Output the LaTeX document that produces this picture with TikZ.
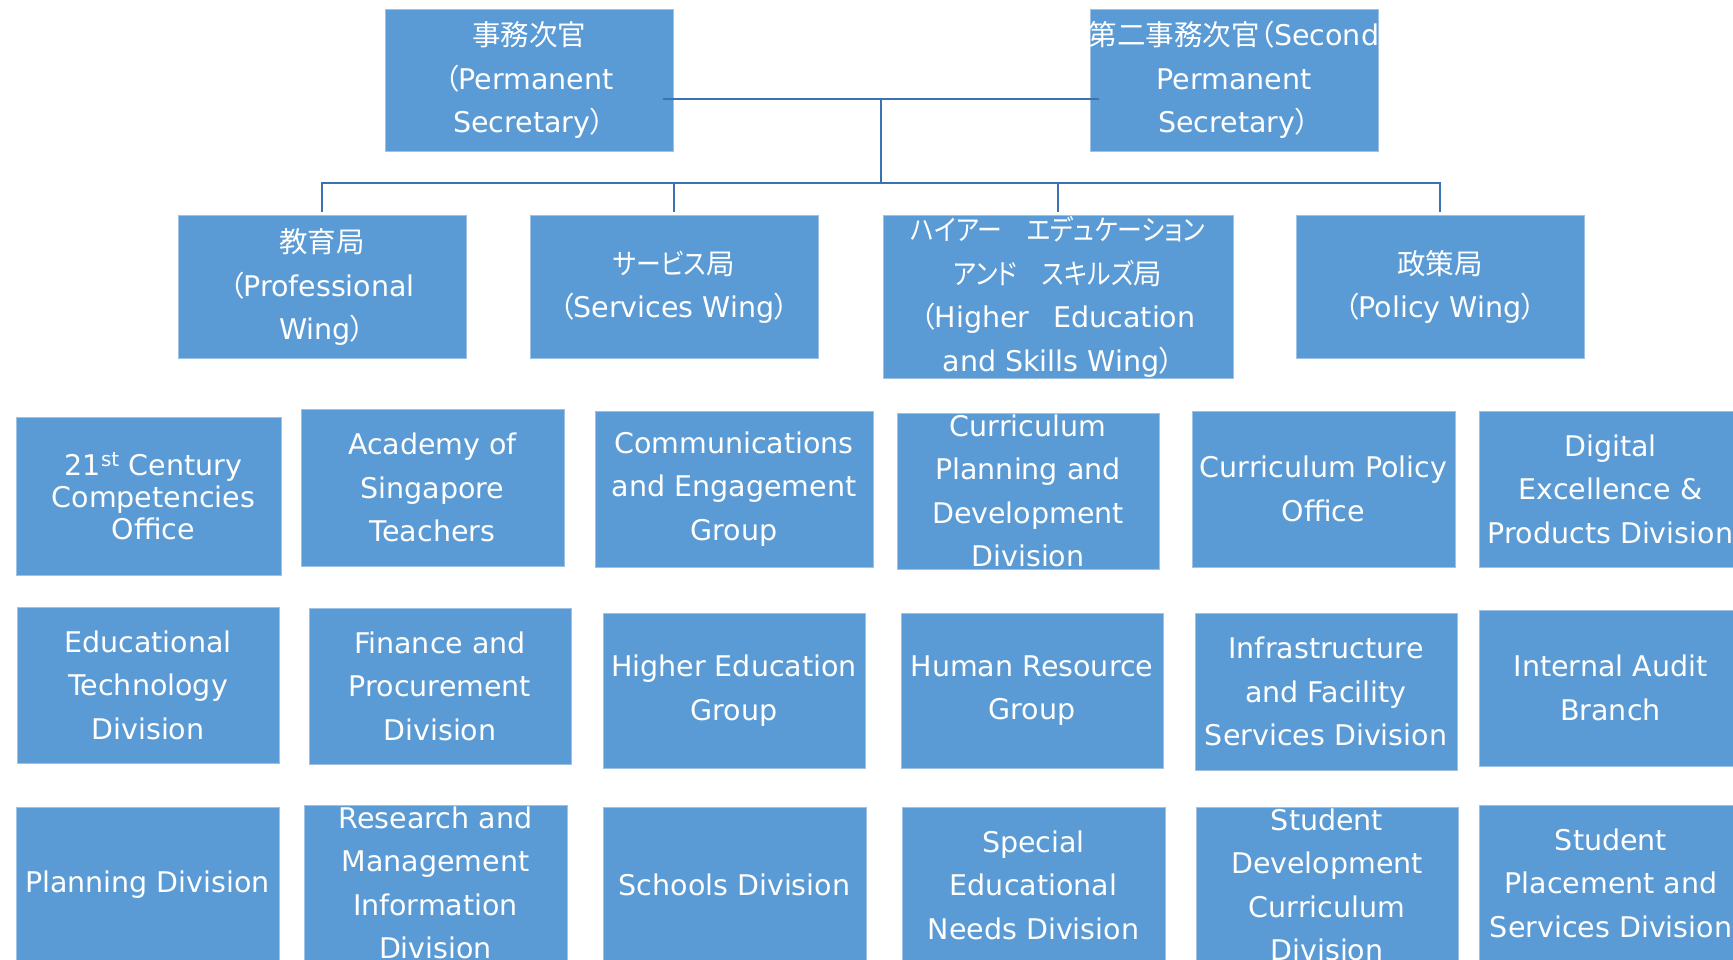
\documentclass[tikz,border=0pt]{standalone}
\usepackage{fontspec}
\setmainfont{DejaVu Sans}
\newfontfamily\jp{Noto Sans CJK JP}[RawFeature=+palt]
\newfontfamily\kana{Noto Sans CJK JP}[RawFeature=+palt, FakeStretch=0.87]
\definecolor{boxblue}{RGB}{91,155,213}
\definecolor{boxedge}{RGB}{158,194,230}
\definecolor{linkblue}{RGB}{58,114,180}

\begin{document}
\begin{tikzpicture}[
    % Egy képpont egy pont, lefelé növekvő y
    x=1pt, y=-1pt,
    % Szervezeti egységek dobozai, a felirat címkeként kerül középre
    unit/.style={
        rectangle, fill=boxblue, draw=boxedge, line width=1pt,
        inner sep=0pt, minimum width=263pt, minimum height=156pt
    },
    every label/.style={text=white, align=center, inner sep=0pt,
        font=\fontsize{28.5}{43.5}\selectfont},
    link/.style={draw=linkblue, line width=2.7pt}
]
    \useasboundingbox (0,0) rectangle (1733,959);

    % Felső szint: a két vezető
    \node[unit, minimum width=288pt, minimum height=142pt,
        label=center:{{\jp 事務次官}\\{\jp （}Permanent\\Secretary{\jp ）}}] (ps) at (529,80) {};
    \node[unit, minimum width=288pt, minimum height=142pt,
        label=center:{{\jp 第二事務次官（}Second\\Permanent\\Secretary{\jp ）}}] (sps) at (1234,80) {};

    % Szárnyak
    \node[unit, minimum width=288pt, minimum height=143pt,
        label=center:{{\jp 教育局}\\{\jp （}Professional\\Wing{\jp ）}}] (pw) at (322,287) {};
    \node[unit, minimum width=288pt, minimum height=143pt,
        label=center:{{\kana サービス}{\jp 局}\\{\jp （}Services Wing{\jp ）}}] (sw) at (674,287) {};
    \node[unit, minimum width=350pt, minimum height=163pt,
        label=center:{{\kana ハイアー　エデュケーション}\\{\kana アンド　スキルズ}{\jp 局}\\{\jp （}Higher\hspace{24pt}Education\\and Skills Wing{\jp ）}}] (hes) at (1058,297) {};
    \node[unit, minimum width=288pt, minimum height=143pt,
        label=center:{{\jp 政策局}\\{\jp （}Policy Wing{\jp ）}}] (pol) at (1440,287) {};

    % Összekötő vonalak
    \coordinate (hub) at (881,99);
    \coordinate (bus) at (881,183);
    \draw[link, shorten <=-11pt, shorten >=-9pt] (ps.east |- hub) -- (sps.west |- hub);
    \draw[link] (hub) -- (bus);
    \draw[link, shorten <=3pt, shorten >=3pt] (pw.north) -- (pw.north |- bus) -- (pol.north |- bus) -- (pol.north);
    \draw[link, shorten >=3pt] (sw.north |- bus) -- (sw.north);
    \draw[link, shorten >=3pt] (hes.north |- bus) -- (hes.north);

    % Osztályok, első sor
    \node[unit, minimum width=265pt, minimum height=158pt,
        label={[xshift=5pt, font=\fontsize{28.5}{32}\selectfont]center:{21\textsuperscript{st} Century\\Competencies\\Office}}] (c21) at (148.5,496) {};
    \node[unit, minimum height=157pt,
        label=center:{Academy of\\Singapore\\Teachers}] (ast) at (432.5,487.5) {};
    \node[unit, minimum width=278pt,
        label=center:{Communications\\and Engagement\\Group}] (ceg) at (734,489) {};
    \node[unit, minimum width=262pt,
        label=center:{Curriculum\\Planning and\\Development\\Division}] (cpd) at (1028,491) {};
    \node[unit,
        label=center:{Curriculum Policy\\Office}] (cpo) at (1323.5,489) {};
    \node[unit,
        label=center:{Digital\\Excellence~\&\\Products Division}] (dep) at (1610.5,489) {};

    % Második sor
    \node[unit, minimum width=262pt,
        label=center:{Educational\\Technology\\Division}] (etd) at (148,685) {};
    \node[unit, minimum width=262pt,
        label=center:{Finance and\\Procurement\\Division}] (fpd) at (440,686) {};
    \node[unit, minimum width=262pt, minimum height=155pt,
        label=center:{Higher Education\\Group}] (heg) at (734,690.5) {};
    \node[unit, minimum width=262pt, minimum height=155pt,
        label=center:{Human Resource\\Group}] (hrg) at (1032,690.5) {};
    \node[unit, minimum width=262pt, minimum height=157pt,
        label=center:{Infrastructure\\and Facility\\Services Division}] (ifs) at (1326,691.5) {};
    \node[unit,
        label=center:{Internal Audit\\Branch}] (iab) at (1610.5,688) {};

    % Harmadik sor
    \node[unit,
        label=center:{Planning Division}] (pld) at (147.5,885) {};
    \node[unit,
        label=center:{Research and\\Management\\Information\\Division}] (rmi) at (435.5,883) {};
    \node[unit,
        label=center:{Schools Division}] (scd) at (734.5,885) {};
    \node[unit,
        label=center:{Special\\Educational\\Needs Division}] (sen) at (1033.5,885) {};
    \node[unit, minimum width=262pt,
        label=center:{Student\\Development\\Curriculum\\Division}] (sdc) at (1327,885) {};
    \node[unit,
        label=center:{Student\\Placement and\\Services Division}] (spd) at (1611,883) {};
\end{tikzpicture}
\end{document}
